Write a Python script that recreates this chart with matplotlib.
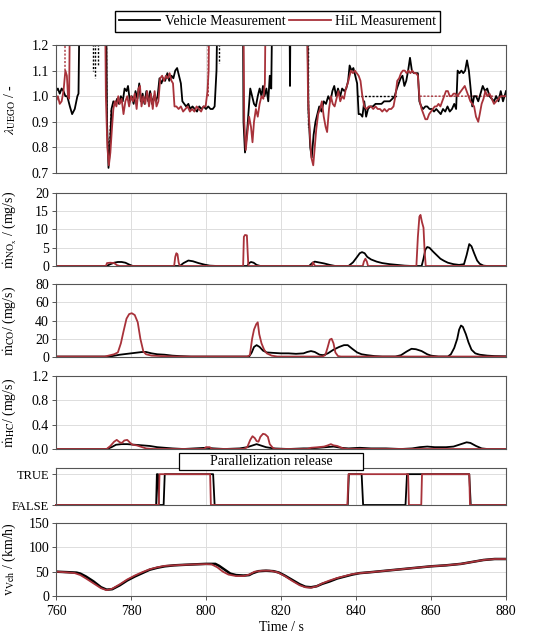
import numpy as np
import matplotlib
matplotlib.use("Agg")
from matplotlib import pyplot as plt
from matplotlib.patches import Rectangle

plt.rcParams['font.family'] = ['Liberation Serif', 'DejaVu Serif']
plt.rcParams['mathtext.fontset'] = 'stix'
plt.rcParams['font.size'] = 10

NAN = np.nan

# lambda (UEGO), vehicle
lam_veh_t = [760.0, 760.5, 761.0, 761.5, 762.0, 762.5, 763.0, 763.7, 764.3, 765.0, 765.7, 766.0, 766.4,
             773.3, 773.6, 774.0, 774.4, 774.8, 775.3, 775.8, 776.3, 776.8, 777.3, 777.8, 778.3, 778.8,
             779.2, 779.7, 780.2, 780.7, 781.2, 781.7, 782.2, 782.6, 783.1, 783.6, 784.1, 784.6, 785.1,
             785.6, 786.1, 786.6, 787.1, 787.6, 788.1, 788.6, 789.1, 789.7, 790.2, 790.8, 791.3, 791.8,
             792.3, 792.8, 793.3, 793.7, 794.2, 794.7, 795.3, 795.8, 796.4, 797.0, 797.6, 798.2, 798.8,
             799.4, 800.0, 800.6, 801.2, 801.8, 802.3, 802.8, 803.2,
             809.8, 810.0, 810.4, 810.9, 811.4, 811.8, 812.3, 812.8, 813.3, 813.8, 814.3, 814.8, 815.2,
             815.6, 816.1, 816.6, 817.0, 817.4, 817.8, 822.2, 822.4, 822.6,
             826.9, 827.3, 827.8, 828.2, 828.7, 829.2, 829.7, 830.2, 830.8, 831.4, 832.0, 832.6, 833.2,
             833.7, 834.2, 834.7, 835.2, 835.8, 836.3, 836.9, 837.4, 837.9, 838.3, 838.8, 839.3, 839.8,
             840.3, 840.7, 841.2, 841.7, 842.2, 842.7, 843.2, 843.8, 844.5, 845.2, 846.0, 846.8, 847.5,
             848.2, 849.0, 849.7, 850.3, 850.9, 851.4, 851.9, 852.4, 852.9, 853.4, 853.9, 854.4, 854.9,
             855.4, 855.9, 856.5, 856.9, 857.4, 857.9, 858.5, 859.0, 859.6, 860.2, 860.8, 861.4, 862.0,
             862.6, 863.2, 863.8, 864.4, 865.0, 865.6, 866.2, 866.7, 867.1, 867.6, 868.1, 868.6, 869.1,
             869.6, 870.1, 870.5, 871.0, 871.5, 872.0, 872.6, 873.2, 873.8, 874.4, 875.0, 875.6, 876.2,
             876.8, 877.4, 878.0, 878.6, 879.2, 880.0]
lam_veh = [1.02, 1.03, 1.01, 1.03, 1.02, 1.00, 1.00, 0.96, 0.93, 0.95, 1.00, 1.01, 1.50,
           1.50, 0.90, 0.72, 0.80, 0.95, 0.98, 0.97, 0.99, 0.97, 1.00, 0.98, 1.03, 1.02,
           1.04, 0.98, 1.00, 0.97, 1.02, 0.99, 1.05, 0.98, 1.01, 0.97, 1.02, 0.98, 1.02,
           0.97, 1.00, 0.98, 1.00, 1.07, 1.05, 1.07, 1.06, 1.09, 1.06, 1.08, 1.07, 1.10,
           1.11, 1.08, 1.05, 0.98, 0.97, 0.96, 0.97, 0.95, 0.96, 0.95, 0.94, 0.96, 0.95,
           0.96, 0.95, 0.96, 0.95, 0.95, 0.96, 1.10, 1.50,
           1.50, 0.90, 0.78, 0.85, 0.95, 1.03, 1.00, 0.97, 0.96, 1.00, 1.03, 1.00, 1.04,
           1.00, 1.03, 0.98, 1.08, 1.03, 1.50, 1.50, 1.04, 1.50,
           1.50, 0.95, 0.80, 0.76, 0.85, 0.90, 0.93, 0.96, 0.94, 0.98, 0.97, 1.00, 0.98,
           1.02, 1.04, 1.00, 1.03, 1.00, 1.03, 1.02, 1.03, 1.06, 1.12, 1.10, 1.11, 1.08,
           1.05, 0.93, 0.93, 0.92, 0.98, 0.92, 0.95, 0.96, 0.96, 0.97, 0.97, 0.97, 0.98,
           0.98, 0.98, 0.99, 1.00, 1.03, 1.05, 1.07, 1.08, 1.04, 1.06, 1.10, 1.15, 1.10,
           1.09, 1.09, 1.09, 0.98, 0.96, 0.95, 0.96, 0.96, 0.95, 0.95, 0.94, 0.95, 0.94,
           0.93, 0.95, 0.94, 0.96, 0.94, 0.95, 0.97, 0.95, 1.10, 1.09, 1.10, 1.09, 1.10,
           1.14, 1.10, 1.04, 0.96, 1.00, 1.00, 0.98, 1.01, 1.04, 1.02, 1.03, 1.00, 0.99,
           0.98, 1.00, 0.98, 1.02, 0.98, 1.02]

# lambda (UEGO), HiL
lam_hil_t = [760.0, 760.5, 761.0, 761.5, 762.0, 762.5, 762.9, 763.2, 763.5, 763.8,
             773.0, 773.3, 773.7, 774.1, 774.5, 774.9, 775.3, 775.7, 776.1, 776.6, 777.0, 777.5,
             778.0, 778.5, 779.0, 779.5, 780.0, 780.5, 781.0, 781.5, 782.0, 782.4, 782.8, 783.3,
             783.8, 784.3, 784.8, 785.3, 785.8, 786.3, 786.8, 787.3, 787.8, 788.3, 788.8, 789.3,
             789.8, 790.3, 790.8, 791.2, 791.6, 792.1, 792.7, 793.3, 793.9, 794.5, 795.1, 795.7,
             796.3, 796.9, 797.5, 798.1, 798.7, 799.3, 799.9, 800.4, 800.7, 801.0,
             809.9, 810.2, 810.6, 811.0, 811.5, 812.0, 812.4, 812.8, 813.3, 813.8, 814.3, 814.8,
             815.3, 815.7, 816.0,
             826.8, 827.2, 827.7, 828.1, 828.6, 829.0, 829.4, 829.9, 830.4, 830.9, 831.4, 831.9,
             832.3, 832.8, 833.3, 833.8, 834.3, 834.8, 835.3, 835.8, 836.3, 836.8, 837.3, 837.8,
             838.3, 838.7, 839.2, 839.7, 840.2, 840.7, 841.2, 841.7, 842.2, 842.8, 843.4, 844.0,
             844.6, 845.2, 845.8, 846.4, 847.0, 847.6, 848.2, 848.8, 849.4, 850.0, 850.5, 851.0,
             851.5, 852.0, 852.5, 853.0, 853.5, 854.0, 854.5, 855.0, 855.5, 856.0, 856.5, 857.0,
             857.5, 858.0, 858.5, 859.0, 859.5, 860.0, 860.5, 861.0, 861.5, 862.0, 862.5, 863.0,
             863.5, 864.0, 864.5, 865.0, 865.5, 866.0, 866.5, 867.0, 867.5, 868.0, 868.5, 869.0,
             869.5, 870.0, 870.5, 871.0, 871.5, 872.0, 872.6, 873.0, 873.5, 874.0, 874.5, 875.0,
             875.6, 876.2, 876.8, 877.4, 878.0, 878.6, 879.2, 880.0]
lam_hil = [0.98, 1.00, 0.97, 0.98, 1.02, 1.10, 1.08, 1.00, 0.99, 1.50,
           1.50, 1.00, 0.80, 0.73, 0.78, 0.87, 0.95, 0.98, 0.96, 1.00, 0.97, 0.99,
           0.93, 0.98, 1.00, 0.96, 1.00, 0.98, 1.01, 0.95, 1.03, 1.04, 0.96, 1.00,
           0.97, 1.02, 0.96, 1.01, 0.95, 1.02, 0.96, 0.98, 1.07, 1.08, 1.06, 1.08,
           1.07, 1.09, 1.06, 1.05, 0.96, 0.96, 0.95, 0.96, 0.94, 0.95, 0.96, 0.94,
           0.95, 0.94, 0.96, 0.95, 0.94, 0.96, 0.96, 1.02, 1.10, 1.50,
           1.50, 0.90, 0.79, 0.85, 0.92, 0.88, 0.82, 0.90, 0.95, 0.92, 0.97, 1.00,
           0.99, 1.05, 1.50,
           1.50, 1.00, 0.85, 0.76, 0.73, 0.80, 0.87, 0.93, 0.95, 0.98, 0.92, 0.88,
           0.86, 0.95, 1.00, 0.97, 0.96, 0.99, 1.02, 0.98, 1.00, 0.99, 1.03, 1.05,
           1.08, 1.10, 1.09, 1.10, 1.09, 1.08, 1.06, 1.00, 0.96, 0.95, 0.96, 0.96,
           0.95, 0.96, 0.95, 0.95, 0.94, 0.95, 0.94, 0.95, 0.95, 0.96, 1.00, 1.06,
           1.07, 1.09, 1.10, 1.10, 1.09, 1.10, 1.09, 1.10, 1.09, 1.09, 1.08, 0.98,
           0.95, 0.93, 0.91, 0.91, 0.93, 0.94, 0.95, 0.96, 0.96, 0.97, 0.96, 0.98,
           1.00, 1.02, 1.02, 1.00, 1.00, 1.01, 1.01, 1.00, 1.01, 1.02, 1.03, 1.04,
           1.02, 1.00, 0.98, 0.97, 0.96, 0.92, 0.90, 0.93, 0.97, 0.99, 1.02, 1.00,
           1.01, 0.99, 0.97, 0.98, 0.99, 1.00, 1.00, 1.00]

# lambda target (dashed, only where it separates from the measured trace)
lam_veh_set_t = [769.8, 769.8, NAN, 770.4, 770.4, NAN, 771.3, 771.3, NAN, 803.5, 803.5, NAN,
                 827.2, 827.2, NAN, 840.3, 851.0]
lam_veh_set = [1.5, 1.10, NAN, 1.5, 1.07, NAN, 1.5, 1.12, NAN, 1.5, 1.13, NAN,
               1.5, 0.88, NAN, 1.00, 1.00]
lam_hil_set_t = [762.4, 762.4, NAN, 773.4, 773.6, 774.2, 774.7, NAN, 800.6, 800.6, NAN, 857.0, 880.0]
lam_hil_set = [1.1, 1.5, NAN, 1.5, 0.85, 0.80, 0.95, NAN, 1.0, 1.5, NAN, 1.00, 1.00]

# NOx mass flow, mg/s
nox_veh_t = [760, 773.5, 774.5, 775.5, 776.5, 777.5, 778.5, 779.5, 780.5, 793, 794, 795.3, 796.5, 798,
             799.5, 801, 803, 811, 811.5, 812, 812.7, 813.5, 814.5, 827.5, 828.3, 829, 830, 831.5, 833,
             834.5, 838, 839.2, 840.3, 841, 841.6, 842.3, 843, 844, 845.5, 847, 849, 851, 853, 855,
             857.5, 858, 858.5, 859, 859.6, 860.5, 861.5, 862.5, 863.5, 864.5, 866, 867.5, 868.8,
             869.5, 870.2, 870.8, 871.5, 872.3, 873, 874, 875, 880]
nox_veh = [0, 0, 0.5, 0.9, 1.1, 1.1, 0.9, 0.4, 0, 0, 0.8, 1.5, 1.3, 0.8,
           0.4, 0.1, 0, 0, 0.8, 1.1, 0.9, 0.3, 0, 0, 0.8, 1.2, 1.0, 0.7, 0.3,
           0, 0, 1.0, 2.5, 3.5, 3.8, 3.5, 2.5, 1.8, 1.2, 0.8, 0.5, 0.3, 0.1, 0,
           0, 2.0, 4.5, 5.2, 5.0, 4.0, 3.0, 2.0, 1.4, 0.9, 0.5, 0.3, 0.5,
           3.0, 6.0, 5.4, 3.5, 1.5, 0.6, 0.1, 0, 0]
nox_hil_t = [760, 773.3, 773.6, 774.5, 775.5, 776.3, 777, 791.5, 791.8, 792.1, 792.4, 792.7, 793,
             809.9, 810.1, 810.4, 810.9, 811.1, 811.3, 828.3, 828.5, 828.8, 829.1, 841.8, 842.1,
             842.5, 842.9, 843.2, 856.1, 856.5, 856.9, 857.2, 857.6, 858.0, 858.3, 858.6, 880]
nox_hil = [0, 0, 0.8, 0.9, 0.8, 0.2, 0, 0, 2.5, 3.5, 3.2, 1.0, 0,
           0, 8.0, 8.5, 8.4, 4.0, 0, 0, 1.0, 0.5, 0, 0, 1.2,
           2.0, 1.2, 0, 0, 8.0, 13.5, 14.0, 12.0, 10.5, 4.0, 0, 0]

# CO mass flow, mg/s
co_veh_t = [760, 774, 775, 777, 779, 781, 783, 784, 785.5, 787, 789, 791, 793, 796, 811.5, 812.2,
            812.8, 813.5, 814.3, 815.2, 816.2, 818, 820, 822, 824, 826, 827, 828, 829, 830.3, 831.3,
            832.5, 834, 835.5, 836.8, 837.8, 839, 840.3, 841.5, 843, 845, 847, 850.5, 852, 853.5,
            854.8, 856, 857.5, 859, 860, 862, 864.5, 865.3, 866.2, 867, 867.5, 868, 868.5, 869.3,
            870, 870.8, 871.8, 873, 875, 877, 880]
co_veh = [0.5, 0.5, 1, 2.5, 3.5, 4.5, 5.5, 5.5, 4, 3, 2.5, 1.5, 1, 0.5, 0.5, 5,
          11, 13, 11, 7, 5, 4.5, 4, 4, 3.5, 4, 5.5, 6.5, 5.5, 2.5, 2,
          4, 8, 11, 13, 13, 9, 5, 3, 2, 1, 0.5, 0.5, 2, 6,
          9, 8.5, 6.5, 3, 1.5, 0.5, 0.5, 3, 10, 20, 30, 34.5, 33, 25,
          16, 8, 4, 2.5, 1.5, 1, 0.8]
co_hil_t = [760, 773, 774.5, 775.5, 776.5, 777.3, 778, 778.8, 779.5, 780.2, 781, 781.8, 782.5, 783.3,
            784, 785.5, 788, 792, 811, 811.7, 812.3, 812.8, 813.4, 813.8, 814.2, 814.8, 815.5, 816.2,
            817.5, 819, 831, 831.8, 832.4, 833, 833.5, 834, 834.5, 835.2, 836, 880]
co_hil = [0.5, 0.5, 2, 3, 5, 15, 28, 42, 47, 48, 46, 38, 20, 6,
          3, 1.5, 1, 0.5, 0.5, 2, 20, 30, 36, 38, 25, 15, 8, 4,
          1.5, 0.5, 0.5, 2, 10, 19, 20, 15, 5, 1, 0.5, 0.5]

# HC mass flow, mg/s
hc_veh_t = [760, 773.6, 774.8, 776, 777.5, 779, 781, 783, 785, 787, 789, 791, 794, 797, 800, 802, 805,
            809, 811, 812.5, 813.5, 814.5, 816, 818, 822, 826, 828, 830, 832, 834, 836, 838, 841, 844,
            848, 852, 855, 857, 859, 861, 864, 866, 868, 869.5, 870.5, 872, 873.5, 875, 880]
hc_veh = [0, 0, 0.03, 0.07, 0.08, 0.08, 0.07, 0.06, 0.05, 0.03, 0.02, 0.01, 0, 0.01, 0.02, 0.01, 0,
          0.01, 0.03, 0.06, 0.08, 0.06, 0.03, 0.01, 0, 0.01, 0.01, 0.02, 0.03, 0.04, 0.02, 0.01, 0.02, 0.01,
          0.01, 0, 0.01, 0.03, 0.04, 0.03, 0.03, 0.04, 0.08, 0.11, 0.10, 0.05, 0.01, 0, 0]
hc_hil_t = [760, 773.5, 774.5, 775.5, 776.2, 777, 777.6, 778.2, 779, 779.8, 780.4, 781.5, 783, 784, 786,
            799.5, 800, 801, 801.5, 810, 811, 811.8, 812.4, 813, 813.5, 814, 814.5, 815.2, 815.8, 816.5,
            817, 817.8, 818.5, 827, 828, 830, 831.5, 832.5, 833.3, 834, 835, 835.8, 836.5, 838, 880]
hc_hil = [0, 0, 0.05, 0.12, 0.15, 0.11, 0.10, 0.14, 0.15, 0.10, 0.07, 0.06, 0.03, 0.01, 0,
          0, 0.03, 0.03, 0, 0, 0.03, 0.15, 0.21, 0.18, 0.13, 0.12, 0.20, 0.25, 0.24, 0.20,
          0.08, 0.02, 0, 0, 0.02, 0.03, 0.04, 0.06, 0.08, 0.06, 0.05, 0.03, 0.01, 0, 0]

# parallelization release flag (0 = FALSE, 1 = TRUE)
rel_veh_t = [760, 786.7, 786.9, 787.2, 787.4, 788.7, 789.0, 801.9, 802.3, 837.8, 838.1, 841.5, 841.9,
             853.2, 853.6, 870.2, 870.6, 880]
rel_veh = [0, 0, 1, 1, 0, 0, 1, 1, 0, 0, 1, 1, 0, 0, 1, 1, 0, 0]
rel_hil_t = [760, 787.4, 787.6, 801.1, 801.3, 837.7, 838.0, 853.9, 854.1, 857.4, 857.6, 870.2, 870.4, 880]
rel_hil = [0, 0, 1, 1, 0, 0, 1, 1, 0, 0, 1, 1, 0, 0]

# vehicle speed, km/h
v_veh_t = [760, 763, 765.5, 766.5, 768, 770, 772, 773.5, 775, 777, 779, 781, 783, 785, 787, 789, 791.5,
           794, 797, 800, 802.5, 803.5, 805, 806.5, 808, 810, 811.5, 812.5, 814, 816, 818, 819.5, 821,
           823, 825, 826.5, 828, 829.5, 831, 833, 835, 837, 839, 841, 844, 848, 852, 856, 860, 864,
           868, 871, 874, 877, 880]
v_veh = [50, 49, 48, 46, 40, 30, 18, 13, 14, 22, 32, 40, 47, 54, 58, 61, 63,
         64, 65, 66, 66, 62, 54, 46, 43, 42, 43, 47, 51, 52, 51, 48, 42,
         33, 24, 19, 18, 20, 25, 30, 36, 40, 44, 47, 49, 52, 55, 58, 61, 63,
         66, 70, 74, 76, 76]
v_hil_t = [760, 763, 765, 766.5, 768, 770, 772, 773.5, 775, 777, 779, 781, 783, 785, 787, 789, 791.5,
           794, 797, 800, 801.5, 803, 804.5, 806, 808, 810, 811.5, 813, 815, 817, 819, 821, 823, 825,
           826.5, 828, 829.5, 831, 833, 835, 837, 839, 841, 844, 848, 852, 856, 860, 864, 868, 871,
           874, 877, 880]
v_hil = [50, 48.5, 47, 43, 36, 26, 16, 12, 15, 24, 34, 42, 49, 55, 59, 62, 63,
         64, 65, 65.5, 65, 59, 50, 44, 41, 41, 44, 50, 52, 52, 49, 41, 31, 22,
         18, 17, 20, 26, 32, 37, 41, 45, 47, 49, 52, 55, 58, 61, 63, 66, 70,
         74, 76, 76]

BLACK = '#000000'
RED = '#a8323a'
W, H = 550, 643

fig = plt.figure(figsize=(5.5, 6.43), dpi=100)

# (top px, bottom px) of each panel
rows = [(45, 173), (193, 266), (284, 357), (376, 449), (468, 505), (523, 596)]
axes = []
for top, bot in rows:
    ax = fig.add_axes([56 / W, 1 - bot / H, 450 / W, (bot - top) / H])
    axes.append(ax)

ax_lam, ax_nox, ax_co, ax_hc, ax_rel, ax_v = axes

ax_lam.plot(lam_veh_set_t, lam_veh_set, color=BLACK, lw=1.0, ls=(0, (1.5, 1.2)))
ax_lam.plot(lam_hil_set_t, lam_hil_set, color=RED, lw=1.0, ls=(0, (1.5, 1.2)))
ax_lam.plot(lam_veh_t, lam_veh, color=BLACK, lw=1.3, label='Vehicle Measurement')
ax_lam.plot(lam_hil_t, lam_hil, color=RED, lw=1.3, label='HiL Measurement')

ax_nox.plot(nox_veh_t, nox_veh, color=BLACK, lw=1.3)
ax_nox.plot(nox_hil_t, nox_hil, color=RED, lw=1.3)
ax_co.plot(co_veh_t, co_veh, color=BLACK, lw=1.3)
ax_co.plot(co_hil_t, co_hil, color=RED, lw=1.3)
ax_hc.plot(hc_veh_t, hc_veh, color=BLACK, lw=1.3)
ax_hc.plot(hc_hil_t, hc_hil, color=RED, lw=1.3)
ax_rel.plot(rel_veh_t, rel_veh, color=BLACK, lw=1.3, clip_on=False)
ax_rel.plot(rel_hil_t, rel_hil, color=RED, lw=1.3, clip_on=False)
ax_v.plot(v_veh_t, v_veh, color=BLACK, lw=1.8)
ax_v.plot(v_hil_t, v_hil, color=RED, lw=1.3)

ax_lam.set_ylim(0.7, 1.2)
ax_lam.set_yticks([0.7, 0.8, 0.9, 1.0, 1.1, 1.2])
ax_lam.set_yticklabels(['0.7', '0.8', '0.9', '1.0', '1.1', '1.2'])
ax_nox.set_ylim(0, 20)
ax_nox.set_yticks([0, 5, 10, 15, 20])
ax_co.set_ylim(0, 80)
ax_co.set_yticks([0, 20, 40, 60, 80])
ax_hc.set_ylim(0, 1.2)
ax_hc.set_yticks([0, 0.4, 0.8, 1.2])
ax_hc.set_yticklabels(['0.0', '0.4', '0.8', '1.2'])
ax_rel.set_ylim(0, 1.2)
ax_rel.set_yticks([0, 1])
ax_rel.set_yticklabels(['FALSE', 'TRUE'])
ax_v.set_ylim(0, 150)
ax_v.set_yticks([0, 50, 100, 150])

ylabels = [r'$\lambda_{\mathrm{UEGO}}$ / -',
           r'$\dot{\mathrm{m}}_{\mathrm{NO_x}}$ / (mg/s)',
           r'$\dot{\mathrm{m}}_{\mathrm{CO}}$/ (mg/s)',
           r'$\dot{\mathrm{m}}_{\mathrm{HC}}$/ (mg/s)',
           None,
           r'$\mathrm{v}_{\mathrm{Veh}}$ / (km/h)']

for ax, lab in zip(axes, ylabels):
    ax.set_xlim(760, 880)
    ax.set_xticks([760, 780, 800, 820, 840, 860, 880])
    ax.grid(True, color='#dddddd', lw=0.7)
    ax.set_axisbelow(True)
    for s in ax.spines.values():
        s.set_color('#555555')
        s.set_linewidth(0.8)
    ax.tick_params(axis='y', direction='out', length=3, width=0.7, color='#555555', labelsize=10, pad=2)
    if ax is ax_v:
        ax.tick_params(axis='x', direction='out', length=3, width=0.7, color='#555555', labelsize=10)
    else:
        ax.tick_params(axis='x', length=0, labelbottom=False)
    if lab:
        ax.set_ylabel(lab, fontsize=10)
        ax.yaxis.set_label_coords(-0.085, 0.5)

ax_rel.tick_params(axis='y', labelsize=9)
ax_v.set_xlabel('Time / s', fontsize=10, labelpad=2)

fig.legend(*ax_lam.get_legend_handles_labels(), loc='center', bbox_to_anchor=(277.5 / W, 1 - 21.5 / H),
           ncol=2, frameon=True, fancybox=False, edgecolor='black', framealpha=1,
           handlelength=3.0, handletextpad=0.3, columnspacing=0.3, borderpad=0.3, fontsize=10)

box = Rectangle((179 / W, 1 - 470 / H), 184 / W, 17 / H, transform=fig.transFigure,
                facecolor='white', edgecolor='black', lw=0.9, zorder=5)
fig.patches.append(box)
fig.text(271 / W, 1 - 461.5 / H, 'Parallelization release', ha='center', va='center',
         fontsize=10, zorder=6)

fig.savefig('out.png', dpi=100)
